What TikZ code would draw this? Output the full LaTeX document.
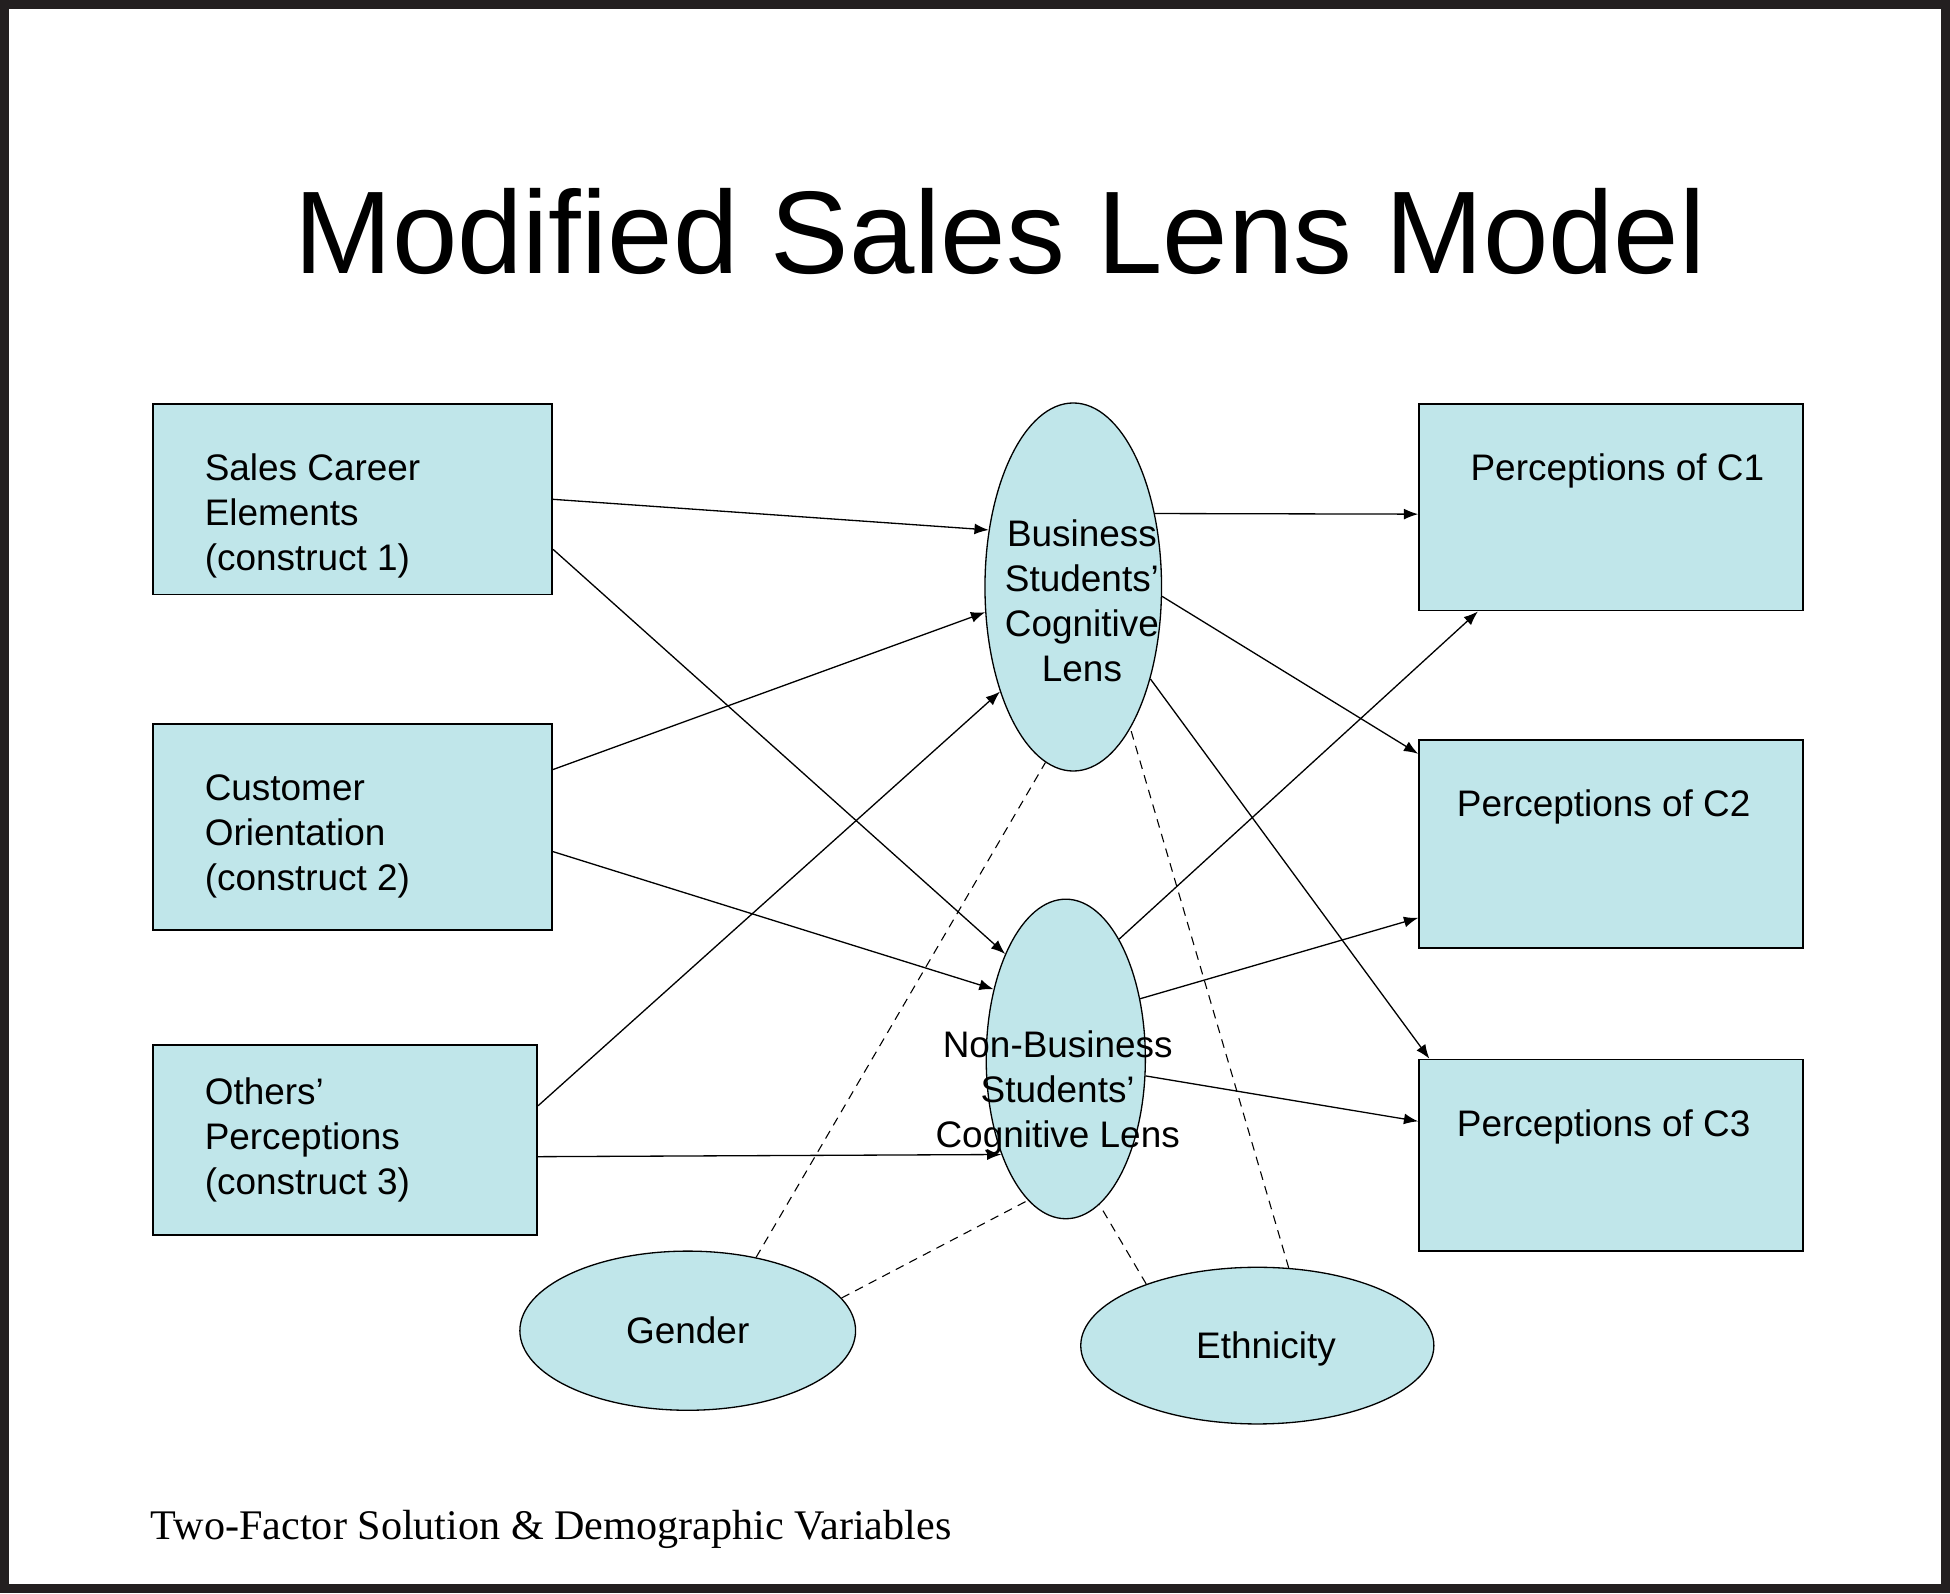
\documentclass[tikz,border=0pt]{standalone}
\usepackage{fontspec}
\setmainfont{Liberation Sans}
\newfontfamily\capfont{Liberation Serif}
\usetikzlibrary{shapes.geometric,arrows.meta}
\definecolor{lensblue}{RGB}{192,230,234}
\definecolor{framegray}{RGB}{35,31,32}

\tikzset{
  construct/.style={draw, rectangle, fill=lensblue, line width=0.8pt},
  constext/.style={anchor=west, align=left, inner sep=0pt, xshift=0.84cm},
  lens/.style={draw, ellipse, fill=lensblue, line width=0.6pt, inner sep=0pt},
  lenstext/.style={anchor=center, align=center, inner sep=0pt},
  link/.style={->, >={Latex[length=6.5pt,width=5pt]}, line width=0.6pt},
  demolink/.style={dash pattern=on 4pt off 3pt, line width=0.5pt}
}

\begin{document}
\begin{tikzpicture}[x=0.02cm, y=-0.02cm, font=\fontsize{16.9}{20.6}\selectfont]
\useasboundingbox (0,0) rectangle (1568,1281);
\draw[framegray, line width=0.14cm] (3.5,3.5) rectangle (1564.5,1277.5);

\node[anchor=base, inner sep=0pt, font=\fontsize{53.8}{64}\selectfont] (title) at (804,220) {Modified Sales Lens Model};

% constructs
\node[construct, minimum width=6.42cm, minimum height=3.06cm,
  label={[constext, yshift=-0.27cm]west:{Sales Career\\Elements\\(construct 1)}}] (con1) at (283.5,401.5) {};
\node[construct, minimum width=6.42cm, minimum height=3.32cm,
  label={[constext, yshift=-0.15cm]west:{Customer\\Orientation\\(construct 2)}}] (con2) at (283.5,665) {};
\node[construct, minimum width=6.18cm, minimum height=3.06cm,
  label={[constext]west:{Others’\\Perceptions\\(construct 3)}}] (con3) at (277.5,916.5) {};

% perceptions
\node[construct, minimum width=6.18cm, minimum height=3.32cm,
  label={[lenstext, xshift=0.1cm, yshift=0.58cm]center:Perceptions of C1}] (c1) at (1295.5,408) {};
\node[construct, minimum width=6.18cm, minimum height=3.34cm,
  label={[lenstext, xshift=-0.12cm, yshift=0.59cm]center:Perceptions of C2}] (c2) at (1295.5,678.5) {};
\node[construct, minimum width=6.18cm, minimum height=3.08cm,
  label={[lenstext, xshift=-0.12cm, yshift=0.46cm]center:Perceptions of C3}] (c3) at (1295.5,929) {};

% lenses
\node[lens, minimum width=2.84cm, minimum height=5.92cm,
  label={[lenstext, xshift=0.14cm, yshift=-0.22cm]center:{Business\\Students’\\Cognitive\\Lens}}] (bl) at (863,472) {};
\node[lens, minimum width=2.56cm, minimum height=5.14cm,
  label={[lenstext, xshift=-0.13cm, yshift=-0.54cm]center:{Non-Business\\Students’\\Cognitive Lens}}] (nbl) at (857,851.5) {};

% demographics
\node[lens, minimum width=5.4cm, minimum height=2.56cm] (gender) at (553,1070) {Gender};
\node[lens, minimum width=5.68cm, minimum height=2.52cm,
  label={[lenstext, xshift=0.14cm, yshift=-0.05cm]center:Ethnicity}] (ethn) at (1011,1082) {};

\path[link] (con1.east) edge (bl.146);
\path[link] (con1.346) edge (nbl.120);
\path[link] (con2.16) edge (bl.196);
\path[link] (con2.353) edge (nbl.136);
\path[link] (con3.10) edge (bl.235);
\path[link] (con3.355) edge (nbl.236);

\path[link] (bl.42) edge (c1.182);
\path[link] (bl.354) edge (c2.155);
\path[link] (bl.310) edge (c3.152);
\path[link] (nbl.66) edge (c1.218);
\path[link] (nbl.39) edge (c2.201);
\path[link] (nbl.348) edge (c3.170);

\path[demolink] (gender.47) edge (bl.261);
\path[demolink] (gender.12) edge (nbl.255);
\path[demolink] (ethn.68) edge (bl.292);
\path[demolink] (ethn.151) edge (nbl.283);

\node[anchor=base west, inner sep=0pt, font=\capfont\fontsize{19.3}{23}\selectfont] (caption) at (121,1238) {Two-Factor Solution \& Demographic Variables};

\end{tikzpicture}
\end{document}
